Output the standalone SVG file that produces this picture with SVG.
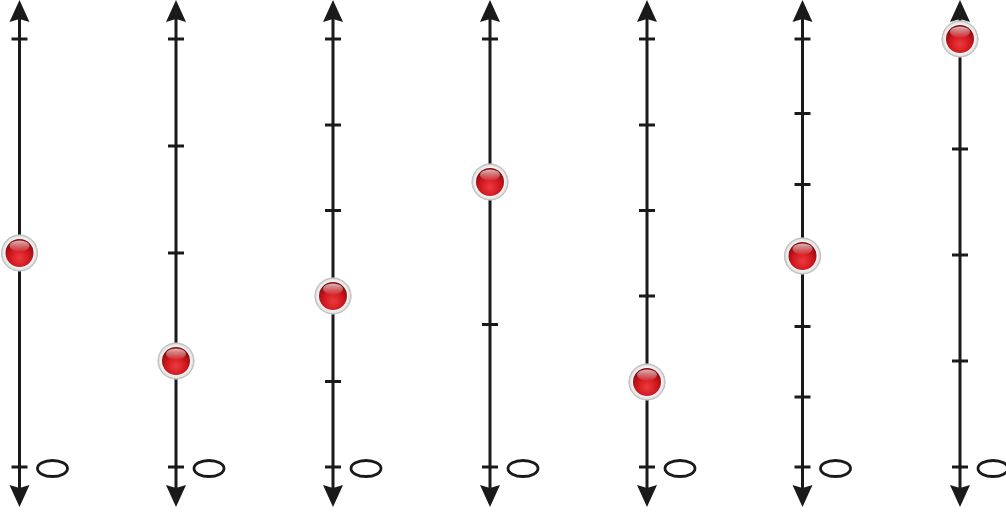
<svg xmlns="http://www.w3.org/2000/svg" width="1006" height="514" viewBox="0 0 1006 514">
<defs>
<style>
.axis{stroke:#1a1a1a;stroke-width:3;fill:none}
.tick{stroke:#1a1a1a;stroke-width:3}
.zero{fill:none;stroke:#1a1a1a;stroke-width:2.8}
.head{fill:#1a1a1a}
</style>
<radialGradient id="ring" cx="0.5" cy="0.5" r="0.5">
<stop offset="0.72" stop-color="#ffffff"/>
<stop offset="0.9" stop-color="#e3e3e3"/>
<stop offset="1" stop-color="#b5b5b5"/>
</radialGradient>
<radialGradient id="red" cx="0.5" cy="0.68" r="0.62">
<stop offset="0" stop-color="#ee3a3e"/>
<stop offset="0.6" stop-color="#cc161c"/>
<stop offset="1" stop-color="#8a0b0f"/>
</radialGradient>
<linearGradient id="shine" x1="0" y1="0" x2="0" y2="1">
<stop offset="0" stop-color="#ffffff" stop-opacity="0.7"/>
<stop offset="1" stop-color="#ffffff" stop-opacity="0.05"/>
</linearGradient>
<g id="ball">
<circle r="18.5" fill="url(#ring)"/>
<circle r="17.8" fill="none" stroke="#c4c4c4" stroke-width="1"/>
<circle r="14" fill="url(#red)"/>
<ellipse cy="-7" rx="10" ry="5.5" fill="url(#shine)"/>
</g>
<g id="line">
<line class="axis" x1="0" y1="12" x2="0" y2="494"/>
<path class="head" d="M0 0 L10 22 L0 19 L-10 22 Z"/>
<path class="head" d="M0 507 L10 485 L0 488 L-10 485 Z"/>
<ellipse class="zero" cx="33" cy="468.5" rx="15" ry="8"/>
</g>
</defs>
<g id="connectors">
</g>
<g id="numberline-1" transform="translate(19.5,0)">
<use href="#line"/>
<line class="tick" x1="-8" y1="39" x2="8" y2="39"/>
<line class="tick" x1="-8" y1="467" x2="8" y2="467"/>
<use href="#ball" x="0" y="253"/>
</g>
<g id="numberline-2" transform="translate(176,0)">
<use href="#line"/>
<line class="tick" x1="-8" y1="39" x2="8" y2="39"/>
<line class="tick" x1="-8" y1="146" x2="8" y2="146"/>
<line class="tick" x1="-8" y1="253" x2="8" y2="253"/>
<line class="tick" x1="-8" y1="360" x2="8" y2="360"/>
<line class="tick" x1="-8" y1="467" x2="8" y2="467"/>
<use href="#ball" x="0" y="361"/>
</g>
<g id="numberline-3" transform="translate(333,0)">
<use href="#line"/>
<line class="tick" x1="-8" y1="39" x2="8" y2="39"/>
<line class="tick" x1="-8" y1="125" x2="8" y2="125"/>
<line class="tick" x1="-8" y1="210.5" x2="8" y2="210.5"/>
<line class="tick" x1="-8" y1="296" x2="8" y2="296"/>
<line class="tick" x1="-8" y1="381.5" x2="8" y2="381.5"/>
<line class="tick" x1="-8" y1="467" x2="8" y2="467"/>
<use href="#ball" x="0" y="296"/>
</g>
<g id="numberline-4" transform="translate(490,0)">
<use href="#line"/>
<line class="tick" x1="-8" y1="39" x2="8" y2="39"/>
<line class="tick" x1="-8" y1="182" x2="8" y2="182"/>
<line class="tick" x1="-8" y1="324.5" x2="8" y2="324.5"/>
<line class="tick" x1="-8" y1="467" x2="8" y2="467"/>
<use href="#ball" x="0" y="182"/>
</g>
<g id="numberline-5" transform="translate(647,0)">
<use href="#line"/>
<line class="tick" x1="-8" y1="39" x2="8" y2="39"/>
<line class="tick" x1="-8" y1="125" x2="8" y2="125"/>
<line class="tick" x1="-8" y1="210.5" x2="8" y2="210.5"/>
<line class="tick" x1="-8" y1="296" x2="8" y2="296"/>
<line class="tick" x1="-8" y1="381.5" x2="8" y2="381.5"/>
<line class="tick" x1="-8" y1="467" x2="8" y2="467"/>
<use href="#ball" x="0" y="382"/>
</g>
<g id="numberline-6" transform="translate(802.5,0)">
<use href="#line"/>
<line class="tick" x1="-8" y1="39" x2="8" y2="39"/>
<line class="tick" x1="-8" y1="113.5" x2="8" y2="113.5"/>
<line class="tick" x1="-8" y1="184.5" x2="8" y2="184.5"/>
<line class="tick" x1="-8" y1="255.5" x2="8" y2="255.5"/>
<line class="tick" x1="-8" y1="326.5" x2="8" y2="326.5"/>
<line class="tick" x1="-8" y1="397" x2="8" y2="397"/>
<line class="tick" x1="-8" y1="467" x2="8" y2="467"/>
<use href="#ball" x="0" y="256"/>
</g>
<g id="numberline-7" transform="translate(960,0)">
<use href="#line"/>
<line class="tick" x1="-8" y1="39" x2="8" y2="39"/>
<line class="tick" x1="-8" y1="149" x2="8" y2="149"/>
<line class="tick" x1="-8" y1="255" x2="8" y2="255"/>
<line class="tick" x1="-8" y1="361" x2="8" y2="361"/>
<line class="tick" x1="-8" y1="467" x2="8" y2="467"/>
<use href="#ball" x="0" y="39"/>
</g>
</svg>
